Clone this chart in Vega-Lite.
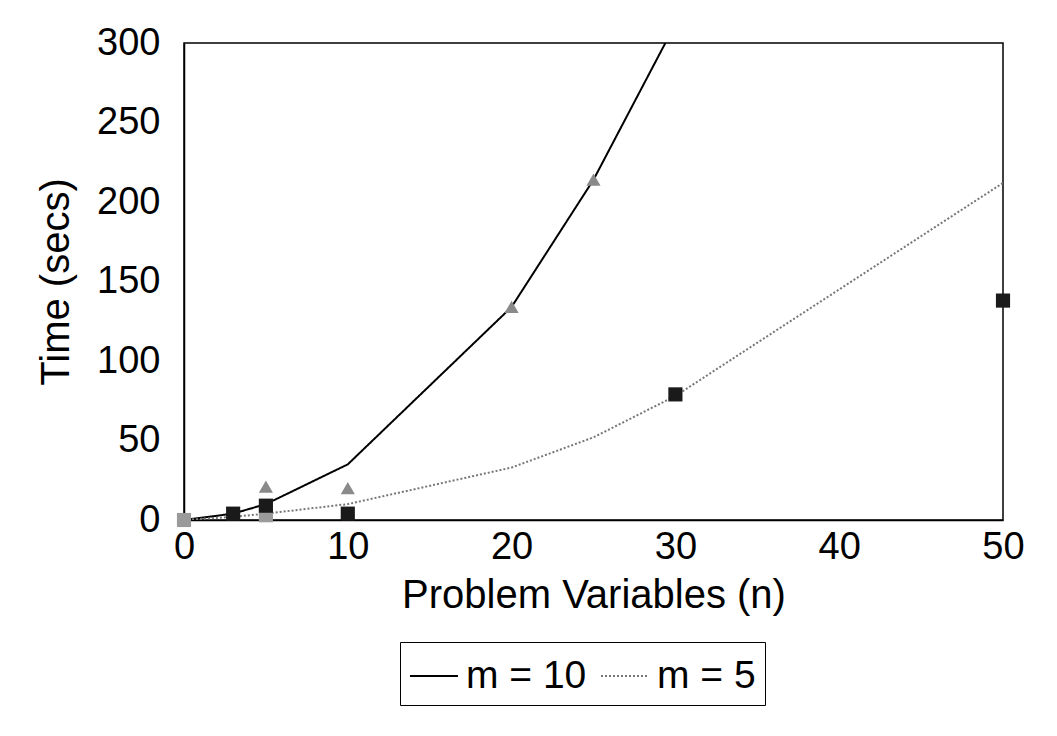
{
  "$schema": "https://vega.github.io/schema/vega-lite/v6.json",
  "autosize": {"type": "none"},
  "width": 819,
  "height": 477,
  "padding": {"left": 184, "top": 43, "right": 54, "bottom": 216},
  "background": "white",
  "config": {
    "font": "Liberation Sans",
    "view": {"stroke": "black", "strokeWidth": 1.5},
    "axis": {
      "grid": false,
      "ticks": false,
      "domainColor": "black",
      "domainWidth": 1.5,
      "labelFont": "Liberation Sans",
      "labelFontSize": 38,
      "labelColor": "black",
      "titleFont": "Liberation Sans",
      "titleFontSize": 40,
      "titleFontWeight": "normal",
      "titleColor": "black"
    }
  },
  "datasets": {
    "curves": [
      {"series": "m = 10", "n": 0, "time": 0},
      {"series": "m = 10", "n": 3, "time": 4},
      {"series": "m = 10", "n": 5, "time": 10},
      {"series": "m = 10", "n": 10, "time": 35},
      {"series": "m = 10", "n": 20, "time": 134},
      {"series": "m = 10", "n": 25, "time": 214},
      {"series": "m = 10", "n": 30, "time": 312},
      {"series": "m = 5", "n": 0, "time": 0},
      {"series": "m = 5", "n": 3, "time": 2},
      {"series": "m = 5", "n": 5, "time": 4},
      {"series": "m = 5", "n": 10, "time": 10},
      {"series": "m = 5", "n": 20, "time": 33},
      {"series": "m = 5", "n": 25, "time": 52},
      {"series": "m = 5", "n": 30, "time": 78},
      {"series": "m = 5", "n": 50, "time": 212}
    ],
    "observed": [
      {"marker": "hatched square", "n": 0, "time": 0},
      {"marker": "hatched square", "n": 5, "time": 3},
      {"marker": "triangle", "n": 5, "time": 21},
      {"marker": "triangle", "n": 10, "time": 20},
      {"marker": "triangle", "n": 20, "time": 134},
      {"marker": "triangle", "n": 25, "time": 214},
      {"marker": "square", "n": 3, "time": 4},
      {"marker": "square", "n": 5, "time": 9},
      {"marker": "square", "n": 10, "time": 4},
      {"marker": "square", "n": 30, "time": 79},
      {"marker": "square", "n": 50, "time": 138}
    ]
  },
  "layer": [
    {
      "data": {"name": "curves"},
      "mark": {"type": "line", "clip": true, "strokeWidth": 2},
      "encoding": {
        "x": {
          "field": "n",
          "type": "quantitative",
          "scale": {"domain": [0, 50], "nice": false},
          "axis": {"values": [0, 10, 20, 30, 40, 50], "labelPadding": 8, "titlePadding": 9, "labelFlush": false},
          "title": "Problem Variables (n)"
        },
        "y": {
          "field": "time",
          "type": "quantitative",
          "scale": {"domain": [0, 300], "nice": false},
          "axis": {"values": [0, 50, 100, 150, 200, 250, 300], "labelPadding": 24, "titlePadding": 20, "labelFlush": false},
          "title": "Time (secs)"
        },
        "color": {
          "field": "series",
          "type": "nominal",
          "scale": {"domain": ["m = 10", "m = 5"], "range": ["black", "#777777"]},
          "legend": {
            "title": null,
            "orient": "none",
            "legendX": 216,
            "legendY": 599,
            "direction": "horizontal",
            "strokeColor": "black",
            "padding": 9,
            "symbolType": "stroke",
            "symbolSize": 2304,
            "symbolStrokeWidth": 2,
            "labelFont": "Liberation Sans",
            "labelFontSize": 39,
            "labelColor": "black",
            "labelOffset": 7,
            "columnPadding": 10,
            "labelLimit": 300
          }
        },
        "strokeDash": {
          "field": "series",
          "type": "nominal",
          "scale": {"domain": ["m = 10", "m = 5"], "range": [[1, 0], [2, 2]]},
          "legend": null
        }
      }
    },
    {
      "data": {"name": "observed"},
      "mark": {"type": "point", "filled": true, "opacity": 1, "size": 200},
      "encoding": {
        "x": {"field": "n", "type": "quantitative"},
        "y": {"field": "time", "type": "quantitative"},
        "shape": {
          "field": "marker",
          "type": "nominal",
          "scale": {"domain": ["triangle", "square", "hatched square"], "range": ["triangle-up", "square", "square"]},
          "legend": null
        },
        "fill": {
          "field": "marker",
          "type": "nominal",
          "scale": {"domain": ["triangle", "square", "hatched square"], "range": ["#8a8a8a", "#1a1a1a", "#9a9a9a"]},
          "legend": null
        }
      }
    }
  ]
}
